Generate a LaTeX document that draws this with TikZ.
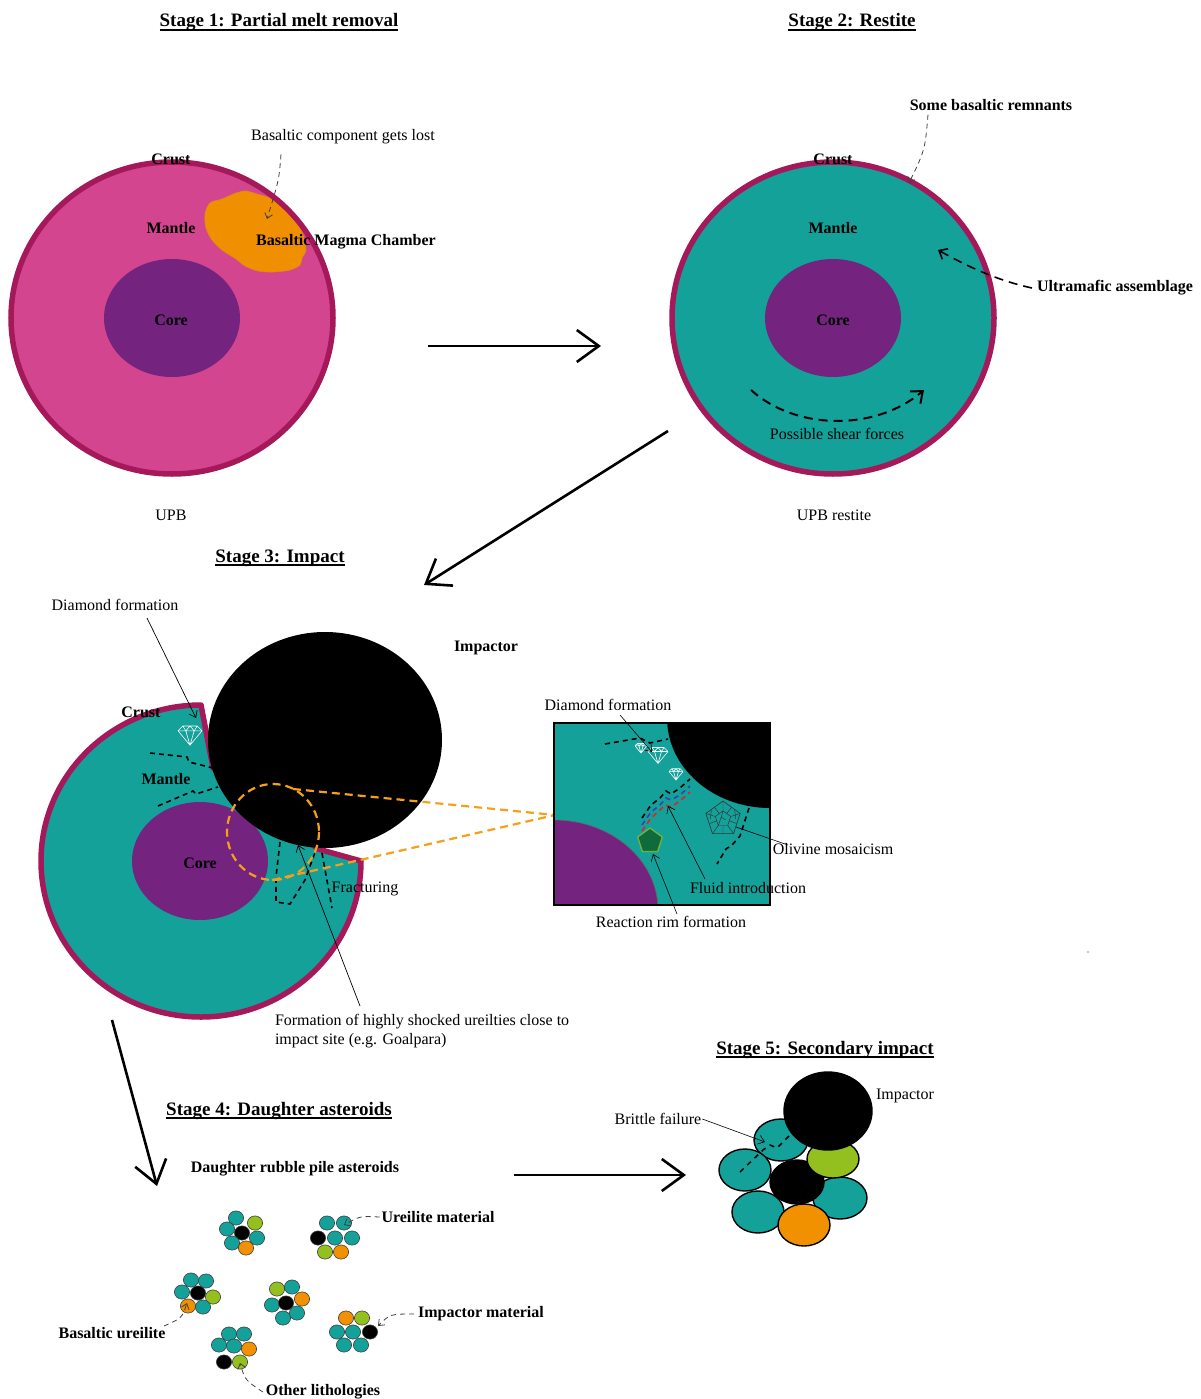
\documentclass[tikz,border=0pt]{standalone}
\usepackage{fontspec}
\setmainfont{Liberation Serif}
\usetikzlibrary{arrows.meta,shapes.geometric}

\definecolor{crustred}{HTML}{A5195A}
\definecolor{pinkmantle}{HTML}{D4458F}
\definecolor{tealmantle}{HTML}{13A19A}
\definecolor{corepurple}{HTML}{74247F}
\definecolor{magma}{HTML}{F09000}
\definecolor{limebit}{HTML}{93C01F}
\definecolor{orangebit}{HTML}{F29100}
\definecolor{zoomorange}{HTML}{F5A01A}
\definecolor{rimgreen}{HTML}{0F6A3C}
\definecolor{rimedge}{HTML}{6DB33F}
\definecolor{fluidblue}{HTML}{3A3FB5}
\definecolor{fluidred}{HTML}{E0202A}

\tikzset{
  gem/.pic={
    \draw[white, line width=0.6pt, line join=round]
      (-1,-0.35) -- (-0.6,-0.75) -- (0.6,-0.75) -- (1,-0.35) -- (0,0.85) -- cycle
      (-1,-0.35) -- (1,-0.35)
      (-0.6,-0.75) -- (-0.35,-0.35) -- (0,-0.75) -- (0.35,-0.35) -- (0.6,-0.75)
      (-0.35,-0.35) -- (0,0.85) -- (0.35,-0.35);
  }
}

\begin{document}
\begin{tikzpicture}[x=1pt,y=-1pt,
  every node/.style={inner sep=0pt, outer sep=0pt},
  lbl/.style={font=\fontsize{16}{19}\selectfont},
  blbl/.style={font=\fontsize{16}{19}\selectfont\bfseries},
  heading/.style={font=\fontsize{19}{22}\selectfont\bfseries, anchor=base},
  uline/.style={line width=1.3pt},
  bigarrow/.style={line width=2.6pt, -{Straight Barb[length=22pt,width=32pt]}},
  pointer/.style={line width=0.7pt, -{Straight Barb[length=6pt,width=9pt]}},
  dpointer/.style={line width=0.8pt, black!75, dash pattern=on 5pt off 4pt, -{Straight Barb[length=5pt,width=8pt]}},
  crustring/.style={draw=crustred, line width=5.5pt},
  fracture/.style={line width=1.6pt, dash pattern=on 5pt off 4pt},
  zoomline/.style={zoomorange, line width=2.2pt, dash pattern=on 8pt off 5pt},
  pebble/.style={draw=black!75, line width=0.6pt},
  rock/.style={draw=black, line width=1.4pt}
]
\useasboundingbox (0,0) rectangle (1201,1399);

% ---------------- Stage 1 ----------------
\node[heading] (h1) at (279,27) {Stage 1: Partial melt removal};
\draw[uline] ([yshift=-3pt]h1.base west) -- ([yshift=-3pt]h1.base east);

\fill[pinkmantle] (172,318) ellipse [x radius=161, y radius=156];
\filldraw[fill=magma, draw=magma!60!brown, line width=0.6pt]
  plot[smooth cycle, tension=0.5] coordinates {(205,214) (210,203) (222,199) (236,193) (246,191)
    (257,194) (270,198) (284,206) (296,220) (303,235) (306,250) (302,258) (300,265)
    (290,270) (273,272) (258,271) (245,266) (236,259) (222,250) (212,240) (206,228)};
\draw[crustring] (172,318) ellipse [x radius=161, y radius=156];
\fill[corepurple] (172,318) ellipse [x radius=68, y radius=59];

\node[blbl] (crust1) at (171,159) {Crust};
\node[blbl] (mantle1) at (171,228) {Mantle};
\node[blbl] (core1) at (171,320) {Core};
\node[blbl] (magma1) at (346,242) {Basaltic Magma Chamber};
\node[lbl] (lost1) at (343,137) {Basaltic component gets lost};
\node[lbl] (upb) at (171,515) {UPB};
\coordinate (lostTip) at (267,219);
\draw[dpointer] ([xshift=-62pt,yshift=-10pt]lost1.south) .. controls (279,180) .. (lostTip);

% stage 1 -> stage 2
\coordinate (a12s) at (428,346);
\coordinate (a12e) at (601,346);
\draw[bigarrow] (a12s) -- (a12e);

% ---------------- Stage 2 ----------------
\node[heading] (h2) at (852,27) {Stage 2: Restite};
\draw[uline] ([yshift=-3pt]h2.base west) -- ([yshift=-3pt]h2.base east);

\filldraw[fill=tealmantle, crustring] (833,318) ellipse [x radius=161, y radius=156];
\fill[corepurple] (833,318) ellipse [x radius=68, y radius=59];

\node[blbl] (crust2) at (833,159) {Crust};
\node[blbl] (mantle2) at (833,228) {Mantle};
\node[blbl] (core2) at (833,320) {Core};
\node[blbl] (remn) at (991,105) {Some basaltic remnants};
\node[blbl] (ultra) at (1115,288) {Ultramafic assemblage};
\node[lbl] (shear) at (837,434) {Possible shear forces};
\node[lbl] (upbr) at (834,515) {UPB restite};

\coordinate (remnTip) at (909,183);
\draw[dpointer] ([xshift=-63pt,yshift=-4pt]remn.south) .. controls (925,150) .. (remnTip);
\coordinate (ultraTip) at (938,250);
\draw[line width=1.6pt, dash pattern=on 9pt off 6pt, -{Straight Barb[length=7pt,width=12pt]}]
  ([xshift=-5pt]ultra.west) .. controls (995,280) and (965,265) .. (ultraTip);
\coordinate (shearS) at (751,390);
\coordinate (shearE) at (924,390);
\draw[line width=2pt, dash pattern=on 9pt off 6pt, -{Straight Barb[length=10pt,width=16pt]}]
  (shearS) .. controls (795,430) and (875,432) .. (shearE);

% stage 2 -> stage 3
\coordinate (a23s) at (668,431);
\coordinate (a23e) at (424,585);
\draw[bigarrow] (a23s) -- (a23e);

% ---------------- Stage 3 ----------------
\node[heading] (h3) at (280,562) {Stage 3: Impact\ };
\draw[uline] ([yshift=-3pt]h3.base west) -- ([yshift=-3pt]h3.base east);

% cratered asteroid
\filldraw[fill=tealmantle, crustring, line join=round]
  (361,861) arc[start angle=0, end angle=270, x radius=160, y radius=156]
  -- (213,768) -- (318,849) -- cycle;
\fill[corepurple] (200,861) ellipse [x radius=68, y radius=59];

% fractures in the mantle
\draw[fracture] (150,753) -- (187,757) -- (189,762) -- (213,768);
\draw[fracture] (158,806) -- (193,791) -- (196,794) -- (218,787);

\pic[scale=12] at (190,735) {gem};

% impactor
\fill[black] (325,740) ellipse [x radius=117, y radius=108];

% fractures below the impact site
\draw[fracture] (280,842) -- (276,877) -- (276,902) -- (290,904) -- (305,880) -- (317,847);
\draw[fracture] (322,853) -- (332,908);

% zoom window outline
\draw[zoomline] (273,832) ellipse [x radius=46, y radius=48];
\coordinate (zoomTo) at (555,815);
\draw[zoomline] (293,789) -- (zoomTo);
\draw[zoomline] (272,880) -- (360,860) -- (zoomTo);

\node[blbl] (imp3) at (486,648) {Impactor};
\node[blbl] (crust3) at (141,712) {Crust};
\node[blbl] (mantle3) at (166,779) {Mantle};
\node[blbl] (core3) at (200,863) {Core};
\node[lbl] (frac) at (365,889) {Fracturing};
\node[lbl] (diam3) at (115,605) {Diamond formation};
\node[lbl, anchor=base west] (shock1) at (275,1025) {Formation of highly shocked ureilties close to};
\node[lbl, anchor=base west] (shock2) at (275,1044) {impact site (e.g. Goalpara)};

\coordinate (diamTip) at (196,718);
\draw[pointer] (147,618) -- (diamTip);
\coordinate (shockTip) at (298,845);
\draw[pointer] (360,1006) -- (shockTip);

% ---- close-up of the impact site ----
\begin{scope}
  \clip (554,723) rectangle (770,905);
  \fill[tealmantle] (554,723) rectangle (770,905);
  \fill[black] (770,718) ellipse [x radius=103, y radius=90];
  \filldraw[fill=corepurple, draw=black!60, line width=0.6pt] (554,910) ellipse [x radius=104, y radius=90];
\end{scope}
\draw[line width=1.8pt] (554,723) rectangle (770,905);

\draw[fracture] (605,744) -- (640,738) -- (650,743) -- (668,739);
\pic[scale=6] at (641,748) {gem};
\pic[scale=10] at (658,755) {gem};
\pic[scale=7] at (676,774) {gem};

% fluid pathways
\draw[fracture] (642,818) -- (651,805) -- (660,798) -- (666,791) -- (671,794) -- (680,788) -- (690,779);
\draw[fracture, fluidblue] (642,825) -- (651,812) -- (660,805) -- (666,798) -- (671,800) -- (680,795) -- (690,786);
\draw[fracture, fluidred] (642,831) -- (651,818) -- (659,811) -- (665,805) -- (671,807) -- (680,801) -- (690,792);

% olivine mosaic grain
\begin{scope}[shift={(723,819)}, scale=18]
  \draw[black!80, line width=0.6pt, line join=round]
    (0,-1) -- (0.951,-0.309) -- (0.588,0.809) -- (-0.588,0.809) -- (-0.951,-0.309) -- cycle;
  \draw[black!80, line width=0.45pt]
    (0,-0.45) -- (0.43,-0.14) -- (0.26,0.36) -- (-0.26,0.36) -- (-0.43,-0.14) -- cycle
    (0,-1) -- (0,-0.45) (0.951,-0.309) -- (0.43,-0.14) (0.588,0.809) -- (0.26,0.36)
    (-0.588,0.809) -- (-0.26,0.36) (-0.951,-0.309) -- (-0.43,-0.14)
    (-0.48,-0.65) -- (-0.2,-0.3) (0.48,-0.65) -- (0.2,-0.3)
    (0.75,0.25) -- (0.35,0.1) (-0.75,0.25) -- (-0.35,0.1)
    (0,0.809) -- (0,0.36) (-0.1,-0.1) -- (0.15,0.05) (0,-0.45) -- (-0.1,-0.1) -- (-0.26,0.36)
    (-0.65,-0.5) -- (-0.7,0) (0.65,-0.5) -- (0.7,0);
\end{scope}
\draw[fracture] (749,808) -- (740,836) -- (732,845) -- (726,849) -- (717,864);

% reaction rim grain
\begin{scope}[shift={(650,841)}, scale=13]
  \filldraw[fill=rimgreen, draw=rimedge, line width=1.4pt, line join=round]
    (0,-1) -- (0.951,-0.309) -- (0.588,0.809) -- (-0.588,0.809) -- (-0.951,-0.309) -- cycle;
\end{scope}

\node[lbl] (diamIn) at (608,705) {Diamond formation};
\node[lbl] (oliv) at (833,849) {Olivine mosaicism};
\node[lbl] (fluid) at (748,888) {Fluid introduction};
\node[lbl] (rim) at (671,922) {Reaction rim formation};

\coordinate (diamInTip) at (652,752);
\draw[pointer, line width=0.6pt] (620,715) -- (diamInTip);
\coordinate (olivTip) at (736,827);
\draw[line width=0.6pt] (788,845) -- (olivTip);
\coordinate (fluidTip) at (668,806);
\draw[pointer, line width=0.6pt] (705,879) -- (fluidTip);
\coordinate (rimTip) at (653,854);
\draw[pointer, line width=0.6pt] (677,914) -- (rimTip);

\fill[black!45] (1088,952) circle [radius=0.8];

% stage 3 -> stage 4
\coordinate (a34s) at (112,1020);
\coordinate (a34e) at (157,1186);
\draw[bigarrow] (a34s) -- (a34e);

% ---------------- Stage 4 ----------------
\node[heading] (h4) at (279,1115) {Stage 4: Daughter asteroids};
\draw[uline] ([yshift=-3pt]h4.base west) -- ([yshift=-3pt]h4.base east);
\node[blbl] (rubble) at (295,1169) {Daughter rubble pile asteroids};

\foreach \px/\py/\c in {
  236/1218/tealmantle, 255/1223/limebit, 227/1229/tealmantle, 242/1233/black,
  257/1238/tealmantle, 232/1243/tealmantle, 246/1248/orangebit,
  327/1223/tealmantle, 344/1223/tealmantle, 318/1238/black, 335/1238/tealmantle,
  352/1238/tealmantle, 325/1252/limebit, 341/1252/orangebit,
  191/1280/tealmantle, 206/1281/tealmantle, 182/1292/tealmantle, 198/1293/black,
  213/1297/limebit, 188/1306/orangebit, 203/1307/tealmantle,
  277/1289/limebit, 292/1287/tealmantle, 272/1305/tealmantle, 286/1303/black,
  302/1299/orangebit, 283/1318/tealmantle, 297/1313/tealmantle,
  229/1334/tealmantle, 244/1334/tealmantle, 219/1345/tealmantle, 234/1346/tealmantle,
  249/1349/orangebit, 224/1362/black, 240/1362/limebit,
  346/1318/orangebit, 362/1318/limebit, 337/1332/tealmantle, 353/1332/tealmantle,
  370/1332/black, 344/1345/tealmantle, 361/1345/tealmantle}
  \filldraw[pebble, fill=\c] (\px,\py) ellipse [x radius=7.6, y radius=7.1];

\node[blbl] (ureil) at (438,1217) {Ureilite material};
\node[blbl] (impm) at (481,1314) {Impactor material};
\node[blbl] (basu) at (112,1333) {Basaltic ureilite};
\node[blbl] (other) at (323,1392) {Other lithologies};

\coordinate (ureilTip) at (344,1225);
\draw[dpointer] ([xshift=-2pt]ureil.west) .. controls (360,1216) .. (ureilTip);
\coordinate (impmTip) at (378,1326);
\draw[dpointer] ([xshift=-4pt]impm.west) .. controls (390,1314) .. (impmTip);
\coordinate (basuTip) at (187,1303);
\draw[dpointer] (164,1326) .. controls (182,1318) .. (basuTip);
\coordinate (otherTip) at (240,1363);
\draw[dpointer] ([xshift=-3pt]other.west) .. controls (245,1380) .. (otherTip);

% stage 4 -> stage 5
\coordinate (a45s) at (514,1175);
\coordinate (a45e) at (686,1175);
\draw[bigarrow] (a45s) -- (a45e);

% ---------------- Stage 5 ----------------
\node[heading] (h5) at (825,1054) {Stage 5: Secondary impact};
\draw[uline] ([yshift=-3pt]h5.base west) -- ([yshift=-3pt]h5.base east);

\filldraw[rock, fill=tealmantle] (781,1140) ellipse [x radius=27, y radius=21];
\filldraw[rock, fill=tealmantle] (745,1170) ellipse [x radius=26, y radius=21];
\filldraw[rock, fill=tealmantle] (758,1212) ellipse [x radius=26, y radius=21];
\filldraw[rock, fill=tealmantle] (840,1198) ellipse [x radius=27, y radius=21];
\filldraw[rock, fill=orangebit] (804,1225) ellipse [x radius=26, y radius=21];
\filldraw[rock, fill=black] (797,1182) ellipse [x radius=27, y radius=22];
\filldraw[rock, fill=limebit] (833,1159) ellipse [x radius=26, y radius=19];
\filldraw[rock, fill=black] (828,1111) ellipse [x radius=44, y radius=39];

\draw[line width=1.5pt, dash pattern=on 5pt off 5pt] (740,1172) -- (763,1150) -- (770,1145) -- (777,1148) -- (790,1135);

\node[lbl] (imp5) at (905,1096) {Impactor};
\node[lbl] (brit) at (658,1119) {Brittle failure};
\coordinate (britTip) at (765,1142);
\draw[pointer, line width=0.6pt] ([xshift=1pt]brit.east) -- (britTip);

\end{tikzpicture}
\end{document}
